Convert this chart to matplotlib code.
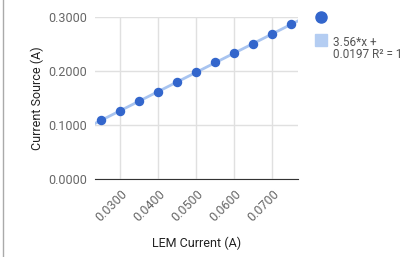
import matplotlib
matplotlib.use('Agg')
import matplotlib.pyplot as plt
from matplotlib.lines import Line2D

plt.rcParams['font.family'] = ['Roboto', 'DejaVu Sans']

lem_current = [0.025, 0.030, 0.035, 0.040, 0.045, 0.050, 0.055, 0.060, 0.065, 0.070, 0.075]
current_source = [0.109, 0.126, 0.144, 0.162, 0.180, 0.198, 0.216, 0.233, 0.251, 0.269, 0.287]
slope = 3.56
intercept = 0.0197
x_ticks = [0.03, 0.04, 0.05, 0.06, 0.07]
y_ticks = [0.0, 0.1, 0.2, 0.3]

fig = plt.figure(figsize=(4.17, 2.57), dpi=100)
ax = fig.add_axes([0.228, 0.3035, 0.487, 0.630])

xmin, xmax = 0.0234, 0.0768
ax.plot([xmin, xmax], [slope * xmin + intercept, slope * xmax + intercept],
        color='#a8c4f0', lw=2, zorder=2)
ax.plot(lem_current, current_source, 'o', color='#3366cc', ms=5.8, mec='#3366cc', zorder=3)

ax.set_xlim(xmin, xmax)
ax.set_ylim(0, 0.3)
ax.set_xticks(x_ticks)
ax.set_yticks(y_ticks)
ax.set_xticklabels([f'{v:.4f}' for v in x_ticks], rotation=45, ha='right',
                   rotation_mode='anchor', color='#666666', fontsize=9)
ax.set_yticklabels([f'{v:.4f}' for v in y_ticks], color='#666666', fontsize=9)
ax.tick_params(length=0, pad=6)
ax.grid(True, color='#e0e0e0', lw=1)
ax.set_axisbelow(True)
for s in ['top', 'right', 'left']:
    ax.spines[s].set_visible(False)
ax.spines['bottom'].set_color('#333333')
ax.spines['bottom'].set_zorder(1)

ax.set_xlabel('LEM Current (A)', fontsize=9, color='#222222', labelpad=9)
ax.set_ylabel('Current Source (A)', fontsize=9, color='#222222', labelpad=3)

# legend
fig.add_artist(Line2D([321 / 417], [1 - 17 / 257], marker='o', color='#3366cc',
                      ms=8, ls='none', transform=fig.transFigure))
fig.add_artist(Line2D([321 / 417], [1 - 40 / 257], marker='s', color='#b4cdf2',
                      ms=8, ls='none', transform=fig.transFigure))
fig.text(333 / 417, 1 - 36 / 257, '3.56*x +\n0.0197 R² = 1', fontsize=8.5,
         color='#555555', va='top', ha='left', linespacing=0.95)

# left border
fig.add_artist(Line2D([3 / 417, 3 / 417], [0, 1], color='#aaaaaa', lw=1,
                      transform=fig.transFigure))

fig.savefig('out.png', dpi=100)
